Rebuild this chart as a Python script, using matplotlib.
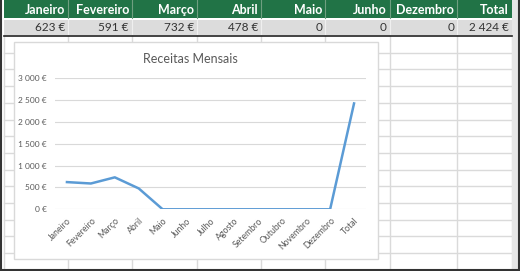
import matplotlib
matplotlib.use('Agg')
import matplotlib.pyplot as plt
from matplotlib.patches import Rectangle
import matplotlib.transforms as mtrans

# data
months = ['Janeiro', 'Fevereiro', 'Março', 'Abril', 'Maio', 'Junho', 'Julho', 'Agosto',
          'Setembro', 'Outubro', 'Novembro', 'Dezembro', 'Total']
receitas = [623, 591, 732, 478, 0, 0, 0, 0, 0, 0, 0, 0, 2424]

table_cols = ['Janeiro', 'Fevereiro', 'Março', 'Abril', 'Maio', 'Junho', 'Dezembro', 'Total']
table_vals = ['623 €', '591 €', '732 €', '478 €', '0', '0', '0', '2 424 €']

y_ticks = [0, 500, 1000, 1500, 2000, 2500, 3000]

W, H = 520, 271
fig = plt.figure(figsize=(W / 100, H / 100), dpi=100)
fig.patch.set_facecolor('white')
fam = ['Lato', 'DejaVu Sans']

# spreadsheet background, pixel coords
bg = fig.add_axes([0, 0, 1, 1])
bg.set_xlim(0, W)
bg.set_ylim(H, 0)
bg.axis('off')

col_edges = [4, 68, 132, 197, 261, 325, 390, 457, 512]
grid_c = '#dadada'

# lower grid cells
for k in range(13):
    y = 36 + 16.7 * (k + 1)
    bg.plot([4, 512], [y, y], color=grid_c, lw=1, zorder=1)
for x in col_edges:
    bg.plot([x, x], [36, 269], color=grid_c, lw=1, zorder=1)

# header row + values row
bg.add_patch(Rectangle((4, 0), 508, 18, facecolor='#217346', edgecolor='none', zorder=2))
bg.add_patch(Rectangle((4, 19.5), 508, 15.5, facecolor='#dcdcdc', edgecolor='none', zorder=2))
for x in col_edges[1:-1]:
    bg.plot([x, x], [0, 18], color='#6f9f80', lw=0.8, zorder=3)
    bg.plot([x, x], [19.5, 35], color='#efefef', lw=0.8, zorder=3)
bg.plot([4, 512], [35.5, 35.5], color='#222222', lw=1.2, zorder=3)

for i, (name, val) in enumerate(zip(table_cols, table_vals)):
    xr = col_edges[i + 1] - 3
    bg.text(xr, 9.5, name, color='white', fontsize=9, fontweight='bold',
            family=fam, ha='right', va='center', zorder=4)
    bg.text(xr, 27.5, val, color='#333333', fontsize=8.5,
            family=fam, ha='right', va='center', zorder=4)

# outer borders
bg.add_patch(Rectangle((512, 0), 6, 269, facecolor='#e6e6e6', edgecolor='none', zorder=2))
bg.plot([1, 1], [0, 270], color='#333333', lw=1.5, zorder=3)
bg.plot([518.5, 518.5], [0, 270], color='#333333', lw=1.5, zorder=3)
bg.plot([0, 520], [269.5, 269.5], color='#333333', lw=1.5, zorder=3)

# chart box
bg.add_patch(Rectangle((14, 42), 364, 217, facecolor='white', edgecolor='#d9d9d9', lw=1, zorder=5))
bg.text(190, 59, 'Receitas Mensais', color='#595959', fontsize=9,
        family=fam, ha='center', va='center', zorder=6)

# chart plot area
ax = fig.add_axes([55 / W, 1 - 209.3 / H, 311 / W, 131 / H])
ax.set_facecolor('none')
x = list(range(len(months)))
ax.plot(x, receitas, color='#5b9bd5', lw=1.8, solid_joinstyle='round', zorder=3)
ax.set_xlim(-0.5, len(months) - 0.5)
ax.set_ylim(0, 3000)
ax.set_yticks(y_ticks)
ax.set_yticklabels([f'{v:,.0f} €'.replace(',', ' ') for v in y_ticks],
                   fontsize=6, color='#595959', family=fam)
ax.set_xticks(x)
ax.set_xticklabels(months, rotation=45, ha='right', va='top', rotation_mode='anchor',
                   fontsize=6.3, color='#595959', family=fam)
shift = mtrans.ScaledTranslation(3 / 100, 0, fig.dpi_scale_trans)
for lbl in ax.get_xticklabels():
    lbl.set_transform(lbl.get_transform() + shift)
ax.tick_params(length=0)
ax.tick_params(axis='x', pad=5)
ax.tick_params(axis='y', pad=6)
ax.grid(axis='y', color='#d9d9d9', lw=0.8)
ax.set_axisbelow(True)
for s in ax.spines.values():
    s.set_visible(False)

fig.savefig('out.png', dpi=100)
